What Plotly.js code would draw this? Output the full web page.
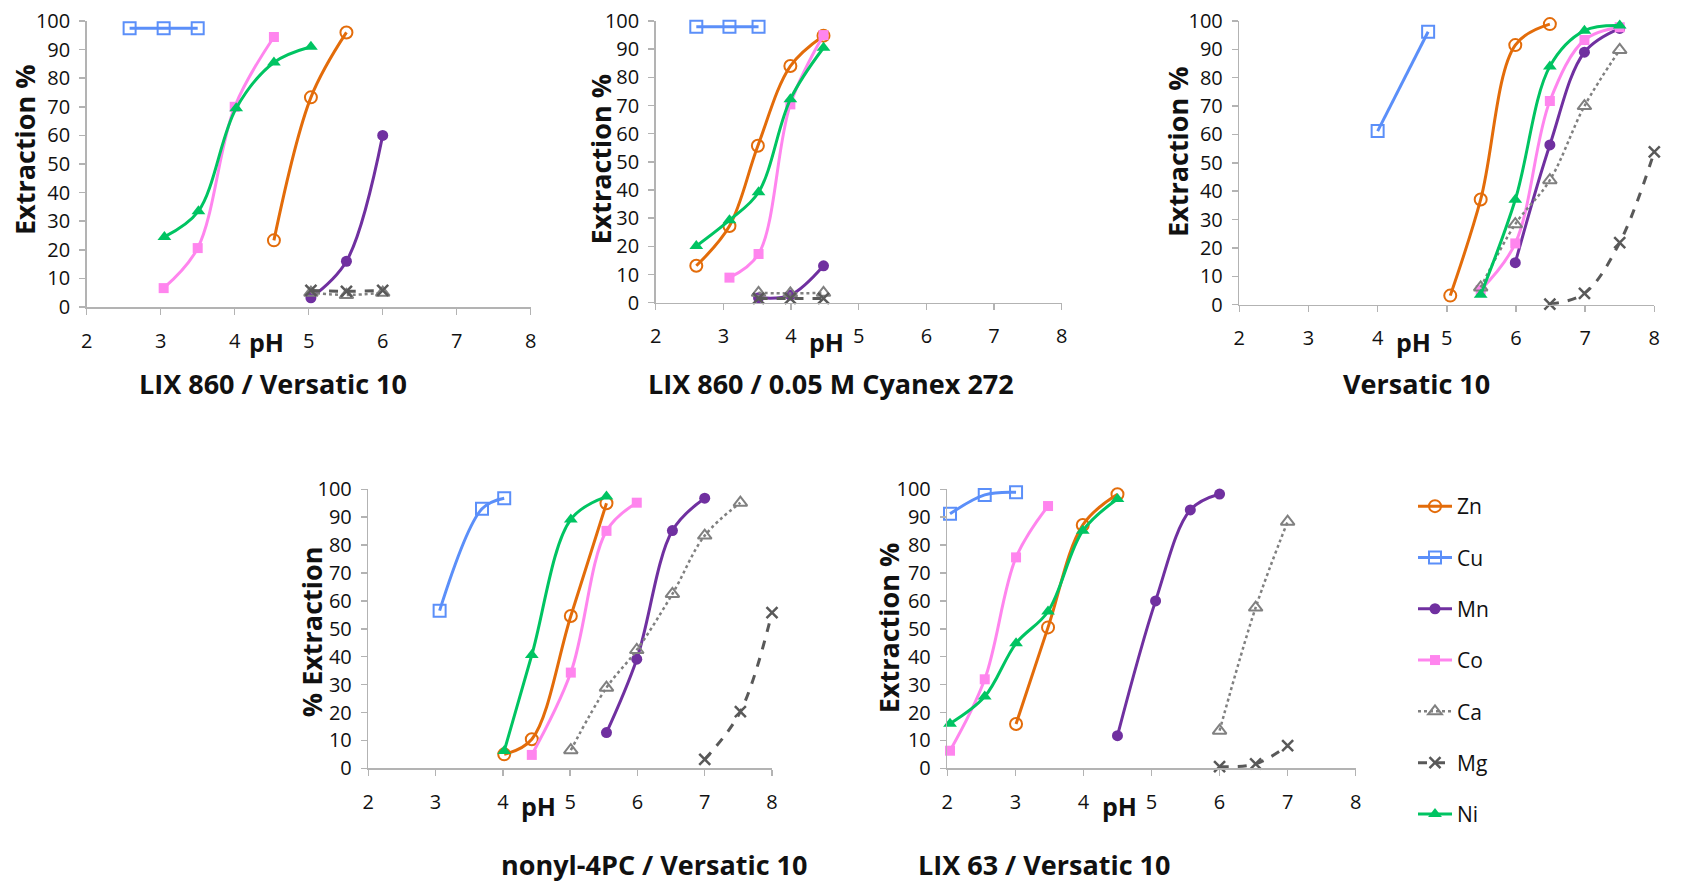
<!DOCTYPE html>
<html>
<head>
<meta charset="utf-8">
<script src="https://cdn.plot.ly/plotly-3.0.1.min.js"></script>
<style>html,body{margin:0;padding:0;background:#fff;}#chart{width:1684px;height:882px;}</style>
</head>
<body>
<div id="chart"></div>
<script>
// ---------- DATA (pH, extraction %) ----------
const metals = ["Zn", "Cu", "Mn", "Co", "Ca", "Mg", "Ni"];
const panelTitles = ["LIX 860 / Versatic 10", "LIX 860 / 0.05 M Cyanex 272", "Versatic 10", "nonyl-4PC / Versatic 10", "LIX 63 / Versatic 10"];
const yTitles = ["Extraction %", "Extraction %", "Extraction %", "% Extraction", "Extraction %"];
const xTickVals = [2, 3, 4, 5, 6, 7, 8];
const yTickVals = [0, 10, 20, 30, 40, 50, 60, 70, 80, 90, 100];

// Panel 1: LIX 860 / Versatic 10
const p1_Zn_x = [4.53, 5.03, 5.51],             p1_Zn_y = [23.3, 73.3, 96.0];
const p1_Cu_x = [2.58, 3.04, 3.50],             p1_Cu_y = [97.5, 97.5, 97.5];
const p1_Mn_x = [5.03, 5.51, 6.00],             p1_Mn_y = [3.2, 16.0, 60.0];
const p1_Co_x = [3.04, 3.50, 4.00, 4.53],       p1_Co_y = [6.6, 20.6, 70.0, 94.4];
const p1_Ca_x = [5.03, 5.51, 6.00],             p1_Ca_y = [5.0, 4.2, 5.0];
const p1_Mg_x = [5.03, 5.51, 6.00],             p1_Mg_y = [5.8, 5.5, 5.8];
const p1_Ni_x = [3.05, 3.51, 4.02, 4.53, 5.03], p1_Ni_y = [24.5, 33.5, 69.5, 85.5, 91.0];

// Panel 2: LIX 860 / 0.05 M Cyanex 272
const p2_Zn_x = [2.60, 3.09, 3.51, 3.99, 4.48], p2_Zn_y = [13.1, 27.2, 55.7, 84.0, 94.8];
const p2_Cu_x = [2.60, 3.09, 3.52],             p2_Cu_y = [98.0, 98.0, 98.0];
const p2_Mn_x = [3.52, 3.99, 4.48],             p2_Mn_y = [1.8, 2.7, 13.1];
const p2_Co_x = [3.09, 3.52, 3.99, 4.48],       p2_Co_y = [8.9, 17.3, 70.4, 95.0];
const p2_Ca_x = [3.52, 3.99, 4.48],             p2_Ca_y = [3.5, 3.3, 3.5];
const p2_Mg_x = [3.52, 3.99, 4.48],             p2_Mg_y = [1.5, 1.5, 1.5];
const p2_Ni_x = [2.60, 3.09, 3.52, 3.99, 4.48], p2_Ni_y = [20.1, 29.3, 39.2, 72.2, 90.5];

// Panel 3: Versatic 10
const p3_Zn_x = [5.05, 5.49, 5.99, 6.49],       p3_Zn_y = [3.2, 37.1, 91.5, 98.9];
const p3_Cu_x = [4.00, 4.73],                   p3_Cu_y = [61.2, 96.2];
const p3_Mn_x = [5.99, 6.49, 6.99, 7.50],       p3_Mn_y = [14.8, 56.3, 89.0, 97.4];
const p3_Co_x = [5.49, 5.99, 6.49, 6.99, 7.50], p3_Co_y = [5.2, 21.6, 71.8, 93.3, 97.8];
const p3_Ca_x = [5.49, 5.99, 6.49, 6.99, 7.50], p3_Ca_y = [6.1, 28.4, 43.9, 70.0, 89.8];
const p3_Mg_x = [6.49, 6.99, 7.50, 8.00],       p3_Mg_y = [0.2, 4.0, 21.9, 53.9];
const p3_Ni_x = [5.49, 5.99, 6.49, 6.99, 7.50], p3_Ni_y = [3.5, 37.0, 84.0, 96.6, 98.4];

// Panel 4: nonyl-4PC / Versatic 10
const p4_Zn_x = [4.02, 4.43, 5.01, 5.54],             p4_Zn_y = [5.0, 10.4, 54.6, 95.0];
const p4_Cu_x = [3.06, 3.69, 4.02],                   p4_Cu_y = [56.5, 93.0, 96.8];
const p4_Mn_x = [5.54, 5.99, 6.52, 7.00],             p4_Mn_y = [12.8, 39.1, 85.2, 96.8];
const p4_Co_x = [4.43, 5.01, 5.54, 5.99],             p4_Co_y = [4.8, 34.3, 85.1, 95.2];
const p4_Ca_x = [5.01, 5.54, 5.99, 6.52, 7.00, 7.53], p4_Ca_y = [6.5, 28.9, 42.4, 62.5, 83.4, 95.2];
const p4_Mg_x = [7.00, 7.53, 8.00],                   p4_Mg_y = [3.2, 20.3, 55.8];
const p4_Ni_x = [4.02, 4.43, 5.01, 5.54],             p4_Ni_y = [6.2, 40.6, 89.2, 97.4];

// Panel 5: LIX 63 / Versatic 10
const p5_Zn_x = [3.01, 3.48, 3.99, 4.50],             p5_Zn_y = [15.9, 50.5, 87.2, 98.2];
const p5_Cu_x = [2.04, 2.55, 3.01],                   p5_Cu_y = [91.2, 98.0, 98.9];
const p5_Mn_x = [4.50, 5.06, 5.57, 6.00],             p5_Mn_y = [11.7, 60.0, 92.6, 98.3];
const p5_Co_x = [2.04, 2.55, 3.01, 3.48],             p5_Co_y = [6.3, 31.9, 75.6, 94.0];
const p5_Ca_x = [6.00, 6.53, 7.00],                   p5_Ca_y = [13.5, 57.6, 88.4];
const p5_Mg_x = [6.00, 6.53, 7.00],                   p5_Mg_y = [0.6, 1.6, 8.1];
const p5_Ni_x = [2.04, 2.55, 3.01, 3.48, 3.99, 4.50], p5_Ni_y = [16.0, 25.7, 44.8, 56.2, 85.1, 96.5];

const panelData = [
  {Zn:[p1_Zn_x,p1_Zn_y],Cu:[p1_Cu_x,p1_Cu_y],Mn:[p1_Mn_x,p1_Mn_y],Co:[p1_Co_x,p1_Co_y],Ca:[p1_Ca_x,p1_Ca_y],Mg:[p1_Mg_x,p1_Mg_y],Ni:[p1_Ni_x,p1_Ni_y]},
  {Zn:[p2_Zn_x,p2_Zn_y],Cu:[p2_Cu_x,p2_Cu_y],Mn:[p2_Mn_x,p2_Mn_y],Co:[p2_Co_x,p2_Co_y],Ca:[p2_Ca_x,p2_Ca_y],Mg:[p2_Mg_x,p2_Mg_y],Ni:[p2_Ni_x,p2_Ni_y]},
  {Zn:[p3_Zn_x,p3_Zn_y],Cu:[p3_Cu_x,p3_Cu_y],Mn:[p3_Mn_x,p3_Mn_y],Co:[p3_Co_x,p3_Co_y],Ca:[p3_Ca_x,p3_Ca_y],Mg:[p3_Mg_x,p3_Mg_y],Ni:[p3_Ni_x,p3_Ni_y]},
  {Zn:[p4_Zn_x,p4_Zn_y],Cu:[p4_Cu_x,p4_Cu_y],Mn:[p4_Mn_x,p4_Mn_y],Co:[p4_Co_x,p4_Co_y],Ca:[p4_Ca_x,p4_Ca_y],Mg:[p4_Mg_x,p4_Mg_y],Ni:[p4_Ni_x,p4_Ni_y]},
  {Zn:[p5_Zn_x,p5_Zn_y],Cu:[p5_Cu_x,p5_Cu_y],Mn:[p5_Mn_x,p5_Mn_y],Co:[p5_Co_x,p5_Co_y],Ca:[p5_Ca_x,p5_Ca_y],Mg:[p5_Mg_x,p5_Mg_y],Ni:[p5_Ni_x,p5_Ni_y]}
];

// ---------- STYLES ----------
const styles = {
  Zn: {color:"#E36C0A", dash:"solid", lw:3,   symbol:"circle-open",        size:12, mlw:2},
  Cu: {color:"#5B8FF9", dash:"solid", lw:3,   symbol:"square-open",        size:12, mlw:2},
  Mn: {color:"#7030A0", dash:"solid", lw:3,   symbol:"circle",             size:11, mlw:0},
  Co: {color:"#FF85EE", dash:"solid", lw:3,   symbol:"square",             size:10, mlw:0},
  Ca: {color:"#808080", dash:"dot",   lw:2.5, symbol:"triangle-up-open",   size:12, mlw:2},
  Mg: {color:"#595959", dash:"dash",  lw:3,   symbol:"x-thin-open",        size:11, mlw:2.5},
  Ni: {color:"#00C462", dash:"solid", lw:3,   symbol:"triangle-up",        size:12, mlw:0}
};

// ---------- LAYOUT GEOMETRY (pixels in the 1684x882 page) ----------
const W = 1684, H = 882;
const panels = [
  {x0:86.7,  x1:530.7,  yTop:21,    yBot:307,   title:[273,383],    ytitle:[25,150],     ph:[266.7,342]},
  {x0:655.7, x1:1061.7, yTop:21,    yBot:302.7, title:[831,383],    ytitle:[600,159.5],  ph:[826.7,342]},
  {x0:1239.3,x1:1654.3, yTop:21,    yBot:304.7, title:[1416.7,383], ytitle:[1177.3,151.7],ph:[1413.3,342]},
  {x0:368.3, x1:772,    yTop:489.3, yBot:768.3, title:[654,864],    ytitle:[311.7,631.5],ph:[538.3,805.7]},
  {x0:947.3, x1:1355.7, yTop:489.3, yBot:768.3, title:[1044,864],   ytitle:[888.3,628],  ph:[1119.3,805.7]}
];
const px = v => v / W, py = v => 1 - v / H;

const traces = [];
const layout = {
  width: W, height: H,
  margin: {l:0, r:0, t:0, b:0},
  paper_bgcolor: "#ffffff", plot_bgcolor: "#ffffff",
  font: {family: "Open Sans, sans-serif", color: "#111111", size: 20},
  showlegend: true,
  legend: {
    x: px(1413), y: py(486), xanchor: "left", yanchor: "top",
    font: {size: 21, color: "#111111"},
    tracegroupgap: 21, itemwidth: 34, bgcolor: "rgba(0,0,0,0)", borderwidth: 0
  },
  annotations: []
};

panels.forEach((p, i) => {
  const n = i + 1;
  const xa = "xaxis" + (n === 1 ? "" : n), ya = "yaxis" + (n === 1 ? "" : n);
  const xr = "x" + (n === 1 ? "" : n), yr = "y" + (n === 1 ? "" : n);
  const axisCommon = {
    showline: true, linecolor: "#B3B3B3", linewidth: 1.5,
    ticks: "outside", ticklen: 6, tickwidth: 1.5, tickcolor: "#B3B3B3",
    showgrid: false, zeroline: false, fixedrange: true,
    tickfont: {size: 20, color: "#111111"}
  };
  layout[xa] = Object.assign({}, axisCommon, {
    domain: [px(p.x0), px(p.x1)], anchor: yr, range: [2, 8],
    tickvals: xTickVals, ticklabelstandoff: 9
  });
  layout[ya] = Object.assign({}, axisCommon, {
    domain: [py(p.yBot), py(p.yTop)], anchor: xr, range: [0, 100],
    tickvals: yTickVals, ticklabelstandoff: 5
  });
  metals.forEach(m => {
    const s = styles[m];
    const d = panelData[i][m];
    traces.push({
      type: "scatter", mode: "lines+markers",
      x: d[0], y: d[1], xaxis: xr, yaxis: yr,
      name: m, legendgroup: m, showlegend: i === 0,
      line: {color: s.color, width: s.lw, dash: s.dash, shape: "spline", smoothing: 1},
      marker: {symbol: s.symbol, size: s.size, color: s.color,
               line: {color: s.color, width: s.mlw}},
      cliponaxis: false, hoverinfo: "x+y+name"
    });
  });
  layout.annotations.push({
    text: "<b>" + panelTitles[i] + "</b>", xref: "paper", yref: "paper",
    x: px(p.title[0]), y: py(p.title[1]), xanchor: "center", yanchor: "middle",
    showarrow: false, font: {size: 27, color: "#111111"}
  });
  layout.annotations.push({
    text: "<b>" + yTitles[i] + "</b>", xref: "paper", yref: "paper",
    x: px(p.ytitle[0]), y: py(p.ytitle[1]), xanchor: "center", yanchor: "middle",
    textangle: -90, showarrow: false, font: {size: 27, color: "#111111"}
  });
  layout.annotations.push({
    text: "<b>pH</b>", xref: "paper", yref: "paper",
    x: px(p.ph[0]), y: py(p.ph[1]), xanchor: "center", yanchor: "middle",
    showarrow: false, font: {size: 25, color: "#111111"}
  });
});

Plotly.newPlot("chart", traces, layout, {displayModeBar: false, staticPlot: true});
</script>
</body>
</html>
